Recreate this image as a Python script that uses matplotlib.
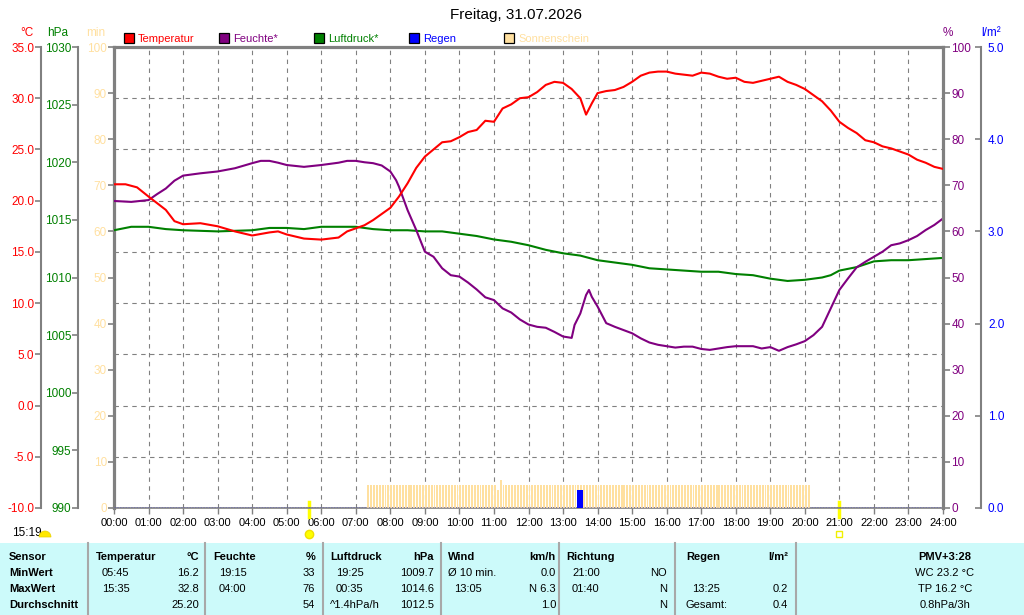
import matplotlib
matplotlib.use('Agg')
import matplotlib.pyplot as plt
from matplotlib.patches import Rectangle, Wedge
from matplotlib.ticker import FormatStrFormatter
import numpy as np

plt.rcParams['font.family'] = ['Liberation Sans', 'DejaVu Sans']

title = 'Freitag, 31.07.2026'

# --- Temperatur (°C)
temp_time = ['00:00', '00:20', '00:40', '01:00', '01:30', '01:45', '02:00', '02:30',
             '03:00', '03:30', '04:00', '04:30', '04:45', '05:00', '05:30', '06:00',
             '06:30', '06:45', '07:00', '07:15', '07:30', '07:45', '08:00', '08:15',
             '08:30', '08:45', '09:00', '09:15', '09:30', '09:45', '10:00', '10:15',
             '10:30', '10:45', '11:00', '11:15', '11:30', '11:45', '12:00', '12:15',
             '12:30', '12:45', '13:00', '13:15', '13:30', '13:40', '13:50', '14:00',
             '14:15', '14:30', '14:45', '15:00', '15:15', '15:30', '15:45', '16:00',
             '16:15', '16:30', '16:45', '17:00', '17:15', '17:30', '17:45', '18:00',
             '18:15', '18:30', '18:45', '19:00', '19:15', '19:30', '19:45', '20:00',
             '20:15', '20:30', '20:45', '21:00', '21:15', '21:30', '21:45', '22:00',
             '22:15', '22:30', '22:45', '23:00', '23:15', '23:30', '23:45', '24:00']
temp_c = [21.6, 21.6, 21.3, 20.4, 19.1, 18.0, 17.7, 17.8,
          17.5, 17.0, 16.6, 16.9, 17.0, 16.7, 16.3, 16.2,
          16.4, 17.0, 17.3, 17.6, 18.1, 18.7, 19.3, 20.4,
          21.7, 23.2, 24.3, 25.0, 25.7, 25.8, 26.2, 26.7,
          26.9, 27.8, 27.7, 29.0, 29.4, 30.0, 30.1, 30.6,
          31.3, 31.6, 31.5, 30.9, 30.0, 28.4, 29.5, 30.5,
          30.7, 30.8, 31.1, 31.6, 32.2, 32.5, 32.6, 32.6,
          32.4, 32.3, 32.2, 32.5, 32.4, 32.1, 31.9, 32.0,
          31.6, 31.5, 31.7, 31.9, 32.1, 31.6, 31.3, 30.9,
          30.3, 29.7, 28.8, 27.7, 27.1, 26.6, 25.9, 25.7,
          25.3, 25.1, 24.8, 24.5, 24.0, 23.7, 23.3, 23.1]

# --- Feuchte (%)
hum_time = ['00:00', '00:30', '01:00', '01:15', '01:30', '01:45', '02:00', '02:30',
            '03:00', '03:30', '04:00', '04:15', '04:30', '04:45', '05:00', '05:30',
            '06:00', '06:30', '06:45', '07:00', '07:15', '07:30', '07:45', '08:00',
            '08:10', '08:15', '08:30', '08:45', '09:00', '09:15', '09:30', '09:45',
            '10:00', '10:15', '10:30', '10:45', '11:00', '11:15', '11:30', '11:45',
            '12:00', '12:15', '12:30', '12:45', '13:00', '13:15', '13:20', '13:30',
            '13:40', '13:45', '13:50', '14:00', '14:15', '14:30', '14:45', '15:00',
            '15:15', '15:30', '15:45', '16:00', '16:15', '16:30', '16:45', '17:00',
            '17:15', '17:30', '17:45', '18:00', '18:15', '18:30', '18:45', '19:00',
            '19:15', '19:30', '19:45', '20:00', '20:15', '20:30', '20:45', '21:00',
            '21:15', '21:30', '21:45', '22:00', '22:15', '22:30', '22:45', '23:00',
            '23:15', '23:30', '23:45', '24:00']
hum_pct = [66.6, 66.4, 66.8, 68.1, 69.3, 71.0, 72.1, 72.6,
           73.0, 73.7, 74.8, 75.3, 75.3, 74.9, 74.4, 74.0,
           74.4, 74.9, 75.3, 75.3, 75.0, 74.8, 74.3, 73.0,
           71.1, 69.7, 64.6, 60.3, 55.6, 54.5, 52.0, 50.5,
           50.2, 48.9, 47.4, 45.7, 45.1, 43.3, 42.4, 40.9,
           39.8, 39.3, 39.1, 38.2, 37.2, 36.9, 39.7, 42.2,
           46.2, 47.3, 45.8, 43.7, 40.1, 39.3, 38.6, 37.9,
           36.8, 35.9, 35.4, 35.1, 34.8, 35.0, 35.0, 34.5,
           34.3, 34.6, 34.9, 35.1, 35.1, 35.1, 34.6, 34.9,
           34.1, 34.9, 35.5, 36.2, 37.5, 39.3, 43.3, 47.3,
           49.8, 52.2, 53.4, 54.5, 55.6, 57.0, 57.4, 58.1,
           59.0, 60.3, 61.4, 62.8]

# --- Luftdruck (hPa)
press_time = ['00:00', '00:30', '01:00', '01:30', '02:00', '03:00', '04:00', '04:30',
              '05:00', '05:30', '06:00', '07:00', '07:30', '08:00', '08:30', '09:00',
              '09:30', '10:00', '10:30', '11:00', '11:30', '12:00', '12:30', '13:00',
              '13:30', '14:00', '14:30', '15:00', '15:30', '16:00', '16:30', '17:00',
              '17:30', '18:00', '18:30', '19:00', '19:15', '19:30', '20:00', '20:15',
              '20:30', '20:45', '21:00', '21:30', '22:00', '22:30', '23:00', '23:30',
              '24:00']
press_hpa = [1014.1, 1014.4, 1014.4, 1014.2, 1014.1, 1014.0, 1014.1, 1014.3,
             1014.3, 1014.2, 1014.4, 1014.4, 1014.2, 1014.1, 1014.1, 1014.0,
             1014.0, 1013.8, 1013.6, 1013.3, 1013.1, 1012.8, 1012.4, 1012.1,
             1011.9, 1011.5, 1011.3, 1011.1, 1010.8, 1010.7, 1010.6, 1010.5,
             1010.5, 1010.3, 1010.2, 1009.9, 1009.8, 1009.7, 1009.8, 1009.9,
             1010.0, 1010.2, 1010.6, 1010.9, 1011.4, 1011.5, 1011.5, 1011.6,
             1011.7]

# --- Sonnenschein (min per 5-min interval, from 07:20)
sun_start = '07:20'
sun_min = [
    5, 5, 5, 5, 5, 5, 5, 5,                    # 07
    5, 5, 5, 5, 5, 5, 5, 5, 5, 5, 5, 5,        # 08
    5, 5, 5, 5, 5, 5, 5, 5, 5, 5, 5, 5,        # 09
    5, 5, 5, 5, 5, 5, 5, 5, 5, 5, 5, 5,        # 10
    5, 4, 6, 5, 5, 5, 5, 5, 5, 5, 5, 5,        # 11
    5, 5, 5, 5, 5, 5, 5, 5, 5, 5, 5, 5,        # 12
    5, 5, 5, 5, 5, 5, 5, 5, 5, 5, 5, 5,        # 13
    5, 5, 5, 5, 5, 5, 5, 5, 5, 5, 5, 5,        # 14
    5, 5, 5, 5, 5, 5, 5, 5, 5, 5, 5, 5,        # 15
    5, 5, 5, 5, 5, 5, 5, 5, 5, 5, 5, 5,        # 16
    5, 5, 5, 5, 5, 5, 5, 5, 5, 5, 5, 5,        # 17
    5, 5, 5, 5, 5, 5, 5, 5, 5, 5, 5, 5,        # 18
    5, 5, 5, 5, 5, 5, 5, 5, 5, 5, 5, 5,        # 19
    5, 5,                                      # 20
]

# --- Regen (l/m²)
rain_time = ['13:25', '13:30']
rain_mm = [0.2, 0.2]

sunrise = '05:38'
sunset = '21:00'
clock = '15:19'

legend_labels = ['Temperatur', 'Feuchte*', 'Luftdruck*', 'Regen', 'Sonnenschein']

table_rows = [
    ['Sensor', 'Temperatur', '°C', 'Feuchte', '%', 'Luftdruck', 'hPa',
     'Wind', 'km/h', 'Richtung', '', 'Regen', 'l/m²', 'PMV+3:28'],
    ['MinWert', '05:45', '16.2', '19:15', '33', '19:25', '1009.7',
     'Ø 10 min.', '0.0', '21:00', 'NO', '', '', 'WC 23.2 °C'],
    ['MaxWert', '15:35', '32.8', '04:00', '76', '00:35', '1014.6',
     '13:05', 'N 6.3', '01:40', 'N', '13:25', '0.2', 'TP 16.2 °C'],
    ['Durchschnitt', '', '25.20', '', '54', '^1.4hPa/h', '1012.5',
     '', '1.0', '', 'N', 'Gesamt:', '0.4', '0.8hPa/3h'],
]


def hours(t):
    h, m = t.split(':')
    return int(h) + int(m) / 60


RED, PURPLE, GREEN, BLUE, SUN = '#FF0000', '#800080', '#008000', '#0000FF', '#FFE0A0'
GRAY = '#808080'
LW = 1.5

W, H = 1024, 615
L, R, T, B = 114, 943, 47, 508
rect = [L / W, 1 - B / H, (R - L) / W, (B - T) / H]

fig = plt.figure(figsize=(W / 100, H / 100), dpi=100)


def only_spine(ax, keep):
    for s in ax.spines:
        ax.spines[s].set_visible(s in keep)


# temperature scale: carries grid, x axis and the outer °C axis
ax_t = fig.add_axes(rect)
ax_t.set_xlim(0, 24)
ax_t.set_ylim(-10, 35)
ax_t.set_yticks(np.arange(-10, 36, 5))
ax_t.yaxis.set_major_formatter(FormatStrFormatter('%.1f'))
ax_t.set_xticks(range(25))
ax_t.set_xticklabels([f'{h:02d}:00' for h in range(25)])
ax_t.grid(True, color=GRAY, ls=(0, (4, 4)), lw=0.8)
only_spine(ax_t, ['left', 'bottom'])
ax_t.spines['left'].set_position(('axes', (41 - L) / (R - L)))
ax_t.spines['left'].set_color(GRAY)
ax_t.spines['left'].set_linewidth(1.5)
ax_t.spines['bottom'].set_color(GRAY)
ax_t.spines['bottom'].set_linewidth(1.2)
ax_t.tick_params(axis='y', color=GRAY, labelcolor=RED, length=4, width=1.2,
                 labelsize=8.5, pad=1)
ax_t.tick_params(axis='x', color=GRAY, labelcolor='black', length=4, width=1,
                 labelsize=8, pad=3)

# sunshine minutes (inner left axis, plot frame)
ax_s = ax_t.twinx()
ax_s.set_ylim(0, 100)
ax_s.yaxis.tick_left()
ax_s.set_yticks(np.arange(0, 101, 10))
only_spine(ax_s, ['left', 'top'])
for s in ['left', 'top']:
    ax_s.spines[s].set_color(GRAY)
    ax_s.spines[s].set_linewidth(2.3)
ax_s.tick_params(axis='y', color=GRAY, labelcolor=SUN, length=4, width=1.2,
                 labelsize=8.5, pad=1)
sun_x = hours(sun_start) + np.arange(len(sun_min)) * 5 / 60
ax_s.bar(sun_x, sun_min, width=3.3 / 60, align='edge', color=SUN, lw=0)

# rain (outer right axis)
ax_r = ax_t.twinx()
ax_r.set_ylim(0, 5)
ax_r.set_yticks(np.arange(0, 5.1, 1))
ax_r.yaxis.set_major_formatter(FormatStrFormatter('%.1f'))
only_spine(ax_r, ['right'])
ax_r.spines['right'].set_position(('axes', (981 - L) / (R - L)))
ax_r.spines['right'].set_color(GRAY)
ax_r.spines['right'].set_linewidth(1.5)
ax_r.tick_params(axis='y', direction='in', color=GRAY, labelcolor=BLUE,
                 length=4, width=1.2, labelsize=8.5, pad=5)
ax_r.bar([hours(t) for t in rain_time], rain_mm, width=5 / 60, align='edge',
         color=BLUE, lw=0)
ax_r.axhline(0, color=BLUE, ls=(0, (1, 1)), lw=1)

# pressure (middle left axis)
ax_p = ax_t.twinx()
ax_p.set_ylim(990, 1030)
ax_p.yaxis.tick_left()
ax_p.set_yticks(np.arange(990, 1031, 5))
only_spine(ax_p, ['left'])
ax_p.spines['left'].set_position(('axes', (78 - L) / (R - L)))
ax_p.spines['left'].set_color(GRAY)
ax_p.spines['left'].set_linewidth(1.5)
ax_p.tick_params(axis='y', color=GRAY, labelcolor=GREEN, length=4, width=1.2,
                 labelsize=8.5, pad=1)
ax_p.plot([hours(t) for t in press_time], press_hpa, color=GREEN, lw=LW)

# humidity (right frame axis)
ax_h = ax_t.twinx()
ax_h.set_ylim(0, 100)
ax_h.set_yticks(np.arange(0, 101, 10))
only_spine(ax_h, ['right'])
ax_h.spines['right'].set_color(GRAY)
ax_h.spines['right'].set_linewidth(2.3)
ax_h.tick_params(axis='y', color=GRAY, labelcolor=PURPLE, length=5, width=1.2,
                 labelsize=8.5, pad=1)
ax_h.plot([hours(t) for t in hum_time], hum_pct, color=PURPLE, lw=LW)

# temperature curve on top, same scale as ax_t
ax_tl = fig.add_axes(rect, sharex=ax_t, sharey=ax_t)
ax_tl.axis('off')
ax_tl.plot([hours(t) for t in temp_time], temp_c, color=RED, lw=LW)

# sunrise / sunset markers below the time axis
trans = ax_t.get_xaxis_transform()
for t in [sunrise, sunset]:
    ax_t.plot([hours(t)] * 2, [0.012, -0.02], color='#FFFF00', lw=2.5,
              transform=trans, clip_on=False)
ax_t.plot(hours(sunrise), -0.056, marker='o', ms=6, color='#FFFF00',
          markeredgecolor='#F0E000', transform=trans, clip_on=False)
ax_t.plot(hours(sunset), -0.056, marker='s', ms=4.5, mfc='none',
          mec='#F0F000', mew=1, transform=trans, clip_on=False)

# overlay in pixel coordinates for title, legend, units and table
ov = fig.add_axes([0, 0, 1, 1])
ov.set_xlim(0, W)
ov.set_ylim(H, 0)
ov.axis('off')

ov.text(516, 15, title, ha='center', va='center', fontsize=11)

leg_colors = [RED, PURPLE, GREEN, BLUE, SUN]
for i, (lab, col) in enumerate(zip(legend_labels, leg_colors)):
    x0 = 124 + i * 95
    ov.add_patch(Rectangle((x0, 33), 10, 10, facecolor=col, edgecolor='black', lw=0.9))
    ov.text(x0 + 14, 38.5, lab, color=col, fontsize=8, va='center', ha='left')

for txt, x, col in [('°C', 27, RED), ('hPa', 58, GREEN), ('min', 96, SUN),
                    ('%', 948, PURPLE), ('l/m²', 991, BLUE)]:
    ov.text(x, 33, txt, color=col, fontsize=8.5, ha='center', va='center')

ov.text(12, 533, clock, fontsize=8.5, va='center', ha='left')
ov.add_patch(Wedge((45, 537), 6, 180, 360, facecolor='#FFE800', edgecolor='#E8D000',
                   lw=0.5, zorder=5))

# table
ov.add_patch(Rectangle((0, 543), W, H - 543, facecolor='#CCFAFA', lw=0))
for x in [88, 205, 323, 441, 559, 675, 796]:
    ov.plot([x, x], [543, H], color='#A8A8A8', lw=1.5)

col_x = [9, 96, 199, 213, 315, 330, 434, 448, 556, 566, 667, 686, 788, 945]
col_ha = ['left', 'left', 'right', 'left', 'right', 'left', 'right',
          'left', 'right', 'left', 'right', 'left', 'right', 'center']
row_y = [557, 573, 589, 605]
for r, (row, y) in enumerate(zip(table_rows, row_y)):
    for c, cell in enumerate(row):
        if not cell:
            continue
        x = col_x[c]
        if r > 0 and col_ha[c] == 'left' and c > 0 and cell[0].isdigit():
            x += 6
        bold = r == 0 or c == 0
        ov.text(x, y, cell, ha=col_ha[c], va='center', fontsize=8,
                fontweight='bold' if bold else 'normal')

fig.savefig('out.png', dpi=100)
